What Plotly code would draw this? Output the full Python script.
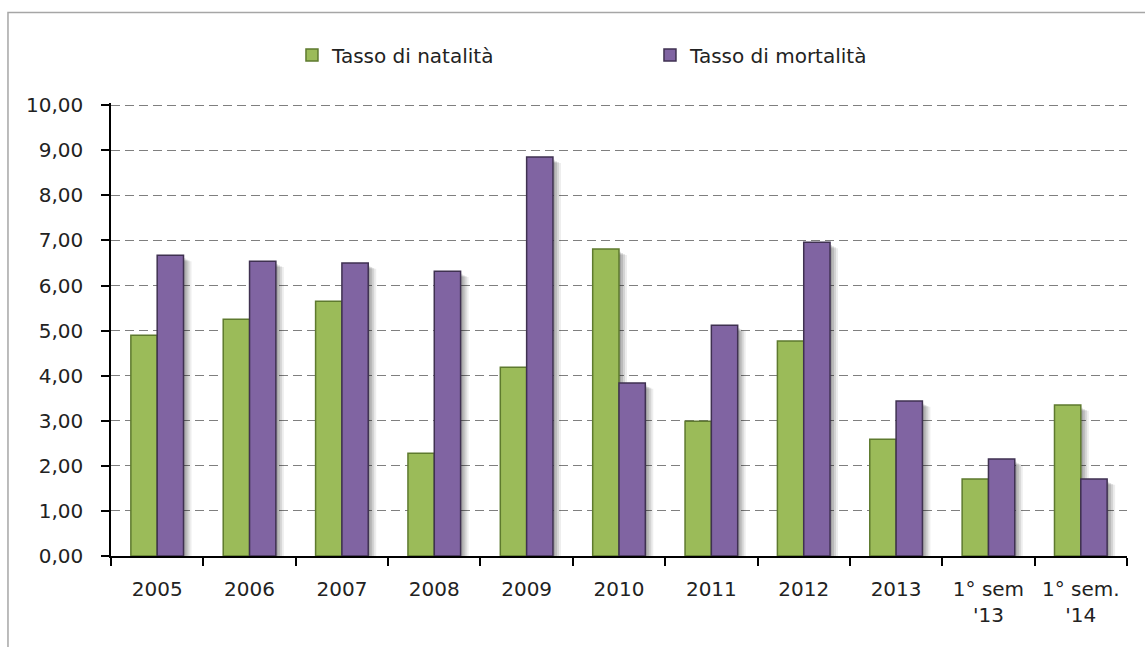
import plotly.graph_objects as go

# Categories and rates (per 1000 inhabitants)
categories = ["2005", "2006", "2007", "2008", "2009", "2010", "2011", "2012",
              "2013", "1° sem<br>'13", "1° sem.<br>'14"]
natalita = [4.90, 5.25, 5.65, 2.28, 4.19, 6.81, 2.99, 4.77, 2.59, 1.71, 3.35]
mortalita = [6.67, 6.54, 6.50, 6.32, 8.85, 3.84, 5.12, 6.96, 3.44, 2.15, 1.71]

series_names = ["Tasso di natalità", "Tasso di mortalità"]
fill_colors = ["#9BBB59", "#8064A2"]
line_colors = ["#5E7A2E", "#3F3151"]

PX = 1 / 92.4          # one pixel in category units
BAR_W = 0.285
offsets = [-BAR_W, 0.0]
series = [natalita, mortalita]

fig = go.Figure()

# soft drop shadows, right of and slightly below each bar
for vals, off in zip(series, offsets):
    for shift, drop, alpha in [(2, 0.06, 0.12), (4, 0.09, 0.12), (6, 0.11, 0.10), (8, 0.13, 0.07)]:
        fig.add_trace(go.Bar(
            x=categories, y=vals, base=-drop, width=BAR_W, offset=off + shift * PX,
            marker=dict(color=f"rgba(0,0,0,{alpha})", line=dict(width=0)),
            showlegend=False, hoverinfo="skip",
        ))

for name, vals, off, fc, lc in zip(series_names, series, offsets, fill_colors, line_colors):
    fig.add_trace(go.Bar(
        name=name, x=categories, y=vals, width=BAR_W, offset=off,
        marker=dict(color=fc, line=dict(color=lc, width=1.5)),
    ))

tick_font = dict(family="DejaVu Sans", size=20, color="#222222")

fig.update_layout(
    width=1145, height=647,
    margin=dict(l=111, r=18, t=103, b=91),
    paper_bgcolor="white", plot_bgcolor="white",
    barmode="overlay",
    separators=",.",
    showlegend=True,
    legend=dict(
        orientation="h", xref="container", yref="container",
        x=0.255, y=1 - 55 / 647, xanchor="left", yanchor="middle",
        font=dict(family="DejaVu Sans", size=20, color="#222222"),
        entrywidth=313, entrywidthmode="pixels", itemwidth=30,
        bgcolor="rgba(0,0,0,0)",
    ),
    xaxis=dict(
        type="category", tickson="boundaries", ticks="outside", ticklen=8,
        tickcolor="black", tickwidth=1.5, showline=True, linecolor="black",
        linewidth=1.5, showgrid=False, tickfont=tick_font, ticklabelstandoff=14,
        range=[-0.5, len(categories) - 0.5],
    ),
    yaxis=dict(
        range=[0, 10.05], dtick=1, tickformat=".2f", ticks="outside", ticklen=8,
        tickcolor="black", tickwidth=1.5, showline=True, linecolor="black",
        linewidth=1.5, showgrid=True, gridcolor="#7f7f7f", gridwidth=1,
        griddash="9px,5px", zeroline=False, tickfont=tick_font,
        ticklabelstandoff=14,
    ),
    shapes=[dict(
        type="rect", xref="paper", yref="paper",
        x0=-0.1014, x1=1.03, y0=-0.3, y1=1.2,
        line=dict(color="#a6a6a6", width=1.5), fillcolor="rgba(0,0,0,0)",
        layer="below",
    )],
)

fig.write_html("out.html")
